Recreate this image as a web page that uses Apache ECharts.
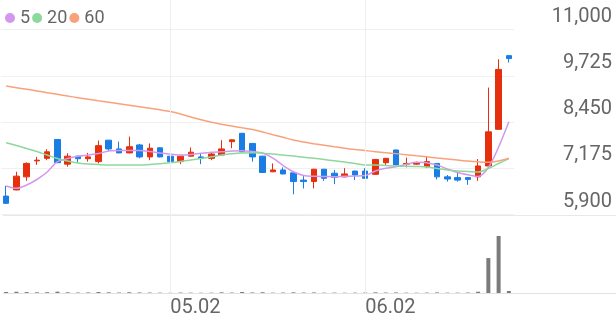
<!DOCTYPE html>
<html><head><meta charset="utf-8">
<script src="https://cdn.jsdelivr.net/npm/echarts@6/dist/echarts.min.js"></script>
<style>html,body{margin:0;padding:0;background:#fff}#c{width:616px;height:321px}</style>
</head><body><div id="c"></div>
<script>
const dates = ['04.09','04.10','04.11','04.14','04.15','04.16','04.17','04.18','04.21','04.22','04.23','04.24','04.25','04.28','04.29','04.30','05.02','05.07','05.08','05.09','05.12','05.13','05.14','05.15','05.16','05.19','05.20','05.21','05.22','05.23','05.26','05.27','05.28','05.29','05.30','06.02','06.04','06.05','06.09','06.10','06.11','06.12','06.13','06.16','06.17','06.18','06.19','06.20','06.23','06.24'];
const opens  = [6410,6580,6940,7380,7450,7970,7290,7510,7440,7360,7950,7710,7600,7820,7490,7740,7510,7360,7510,7490,7450,7540,7910,8140,7860,7510,7080,7130,7050,6850,6810,7150,7040,6940,7100,7100,7010,7330,7680,7290,7290,7220,7310,6940,6920,6920,6940,7240,8250,10280];
const closes = [6210,6960,7310,7400,7630,7330,7510,7440,7490,7800,7710,7600,7770,7490,7730,7490,7360,7510,7620,7450,7570,7710,7960,7630,7490,7060,7130,7020,6810,6810,7150,6900,6930,7020,6990,6900,7420,7450,7270,7310,7330,7360,6940,6880,6850,6870,7240,8180,9900,10200];
const lows   = [6200,6570,6830,7270,7400,7320,7220,7330,7360,7310,7660,7590,7590,7450,7400,7480,7350,7290,7500,7290,7400,7530,7730,7620,7360,7050,7070,7010,6460,6620,6620,6830,6740,6930,6850,6890,7000,7270,7260,7200,7280,7180,6870,6810,6810,6720,6830,7230,8240,10090];
const highs  = [6690,7080,7340,7490,7700,7980,7590,7520,7600,7940,7960,7910,8050,7850,7860,7750,7520,7520,7750,7590,7620,7950,7970,8150,7870,7520,7310,7200,7060,6960,7160,7160,7130,7180,7110,7180,7430,7460,7690,7470,7360,7490,7320,6990,7080,6920,7430,9400,10180,10290];
const volumes = [90000,110000,80000,60000,70000,120000,60000,40000,50000,90000,60000,40000,70000,50000,40000,30000,20000,40000,30000,25000,30000,60000,40000,90000,50000,70000,30000,40000,60000,40000,50000,30000,35000,25000,30000,40000,60000,40000,50000,30000,25000,35000,50000,30000,30000,40000,110000,3100000,5060000,180000];
const ma5  = [6688,6624,6715,6867,7073,7357,7445,7506,7541,7583,7652,7665,7665,7665,7638,7596,7569,7541,7555,7588,7616,7632,7652,7660,7638,7596,7459,7252,7081,6977,6955,6949,6944,6955,6963,6977,7101,7175,7219,7285,7340,7329,7266,7156,7059,6996,6949,7197,7762,8458];
const ma20 = [7880,7803,7720,7638,7541,7445,7376,7321,7294,7277,7266,7266,7266,7266,7280,7299,7327,7362,7404,7445,7492,7541,7574,7596,7605,7588,7569,7541,7514,7481,7453,7417,7382,7349,7307,7266,7266,7252,7238,7233,7225,7211,7170,7128,7101,7087,7073,7170,7307,7445];
const ma60 = [9442,9398,9354,9307,9260,9213,9166,9122,9078,9034,8993,8951,8910,8869,8828,8786,8739,8671,8588,8511,8442,8390,8340,8290,8244,8175,8100,8029,7954,7899,7853,7809,7767,7729,7693,7663,7635,7607,7580,7552,7522,7492,7459,7431,7404,7376,7354,7340,7376,7451];
const yTickLabels = ['5,900','7,175','8,450','9,725','11,000'];
const xTickLabels = ['05.02','06.02'];
const maNames = ['5','20','60'];

const UP = '#e62f0d', DOWN = '#1a7de6';
const FONT = 'Roboto, sans-serif';
const candleData = opens.map((o, i) => [o, closes[i], lows[i], highs[i]]);
const priceMin = Number(yTickLabels[0].replace(/,/g, ''));
const priceMax = Number(yTickLabels[yTickLabels.length - 1].replace(/,/g, ''));

const chart = echarts.init(document.getElementById('c'), null, {renderer: 'canvas'});
chart.setOption({
  animation: false,
  backgroundColor: '#fff',
  legend: {
    data: maNames, left: 0, top: 4, icon: 'circle', itemWidth: 10, itemHeight: 10, itemGap: 2,
    textStyle: {fontSize: 18, color: '#666', fontFamily: FONT}, selectedMode: false
  },
  grid: [
    {left: 1, right: 102, top: 29.5, height: 185.1},
    {left: 1, right: 102, top: 0, height: 293}
  ],
  xAxis: [
    {type: 'category', gridIndex: 0, data: dates, show: false, boundaryGap: true},
    {type: 'category', gridIndex: 1, data: dates, boundaryGap: true,
     axisLine: {show: false}, axisTick: {show: false}, splitLine: {show: false},
     axisLabel: {interval: (i, v) => xTickLabels.includes(v), align: 'left', margin: 5,
       fontSize: 20, color: '#666', fontFamily: FONT}}
  ],
  yAxis: [
    {type: 'value', gridIndex: 0, min: priceMin, max: priceMax, show: false},
    {type: 'value', gridIndex: 0, position: 'right', min: 0, max: yTickLabels.length - 1, interval: 1,
     axisLine: {show: false}, axisTick: {show: false},
     splitLine: {show: true, lineStyle: {color: '#f0f0f0', width: 1}},
     axisLabel: {formatter: v => yTickLabels[v] || '', align: 'right', margin: 98, verticalAlign: 'bottom',
       padding: [0, 0, 3, 0], fontSize: 20, color: '#666', fontFamily: FONT}},
    {type: 'value', gridIndex: 1, min: 0, max: 26000000, show: false}
  ],
  series: [
    {type: 'bar', name: 'vol', xAxisIndex: 1, yAxisIndex: 2, data: volumes, barWidth: 4,
     itemStyle: {color: '#7b7b7b'}, z: 1,
     markLine: {silent: true, symbol: ['none', 'none'], label: {show: false},
       lineStyle: {color: '#eeeeee', type: 'solid', width: 1},
       data: xTickLabels.map(v => ({xAxis: v}))}},
    {type: 'candlestick', name: 'price', xAxisIndex: 0, yAxisIndex: 0, data: candleData, barWidth: 6, z: 3,
     itemStyle: {color: UP, color0: DOWN, borderColor: UP, borderColor0: DOWN, borderWidth: 1}},
    {type: 'line', name: '5', xAxisIndex: 0, yAxisIndex: 0, data: ma5, showSymbol: false, smooth: 0.3, z: 4,
     itemStyle: {color: '#d497ee'}, lineStyle: {color: '#d497ee', width: 1.5}},
    {type: 'line', name: '20', xAxisIndex: 0, yAxisIndex: 0, data: ma20, showSymbol: false, smooth: 0.3, z: 4,
     itemStyle: {color: '#8dd99b'}, lineStyle: {color: '#8dd99b', width: 1.5}},
    {type: 'line', name: '60', xAxisIndex: 0, yAxisIndex: 0, data: ma60, showSymbol: false, smooth: 0.3, z: 4,
     itemStyle: {color: '#f8a27c'}, lineStyle: {color: '#f8a27c', width: 1.5}}
  ]
});

const yBase = Math.round(chart.convertToPixel({yAxisIndex: 0}, priceMin)) + 0.5;
const yVol = Math.round(chart.convertToPixel({yAxisIndex: 2}, 0)) + 0.5;
chart.setOption({
  graphic: [
    {type: 'line', silent: true, z: 0, shape: {x1: 3, y1: yBase, x2: 616, y2: yBase}, style: {stroke: '#e8e8e8', lineWidth: 1}},
    {type: 'line', silent: true, z: 0, shape: {x1: 3, y1: yVol, x2: 616, y2: yVol}, style: {stroke: '#e2e2e2', lineWidth: 1}}
  ]
});
</script></body></html>
